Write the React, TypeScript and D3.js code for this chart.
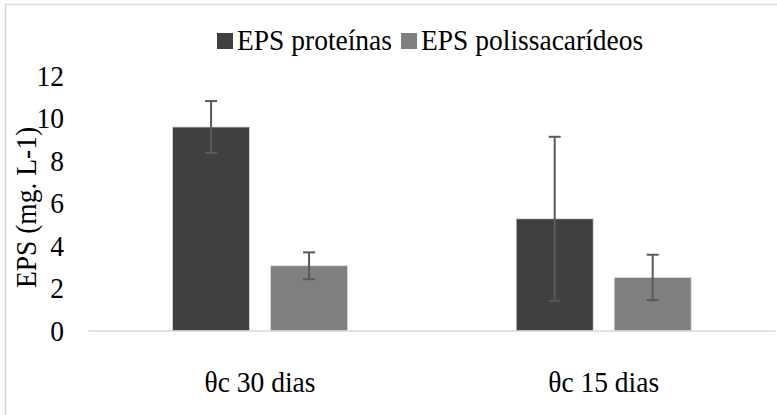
import React, { useEffect, useRef } from "react";
import * as d3 from "d3";

const categories = ["θc 30 dias", "θc 15 dias"];
const seriesNames = ["EPS proteínas", "EPS polissacarídeos"];
const proteinas = [9.6, 5.28];
const proteinasErr = [1.22, 3.86];
const polissacarideos = [3.07, 2.52];
const polissacarideosErr = [0.63, 1.07];
const yTicks = [0, 2, 4, 6, 8, 10, 12];
const yTitle = "EPS (mg. L-1)";
const colors = ["#404040", "#7f7f7f"];

export default function App() {
  const ref = useRef<SVGSVGElement | null>(null);

  useEffect(() => {
    const svg = d3.select(ref.current);
    svg.selectAll("*").remove();
    const W = 777, H = 415;
    const font = "Liberation Serif, Times New Roman, serif";
    const fs = 27.5;
    const sy = 1.06;

    svg.append("rect").attr("x", 0).attr("y", 0).attr("width", W).attr("height", H).attr("fill", "#fff");
    svg.append("rect").attr("x", 5.5).attr("y", 4.5).attr("width", 800).attr("height", 500)
      .attr("fill", "none").attr("stroke", "#d9d9d9").attr("stroke-width", 1.5);

    const plotL = 88.25, plotR = 775.5, plotT = 76, plotB = 331;
    const x0 = d3.scaleBand<string>().domain(categories).range([plotL, plotR]).padding(0);
    const groupW = 175;
    const x1 = d3.scaleBand<string>().domain(seriesNames).range([0, groupW]).paddingInner(0.2143).paddingOuter(0);
    const y = d3.scaleLinear().domain([0, 12]).range([plotB, plotT]);

    const data = categories.map((c, i) => ({
      cat: c,
      vals: [
        { s: seriesNames[0], v: proteinas[i], e: proteinasErr[i], c: colors[0] },
        { s: seriesNames[1], v: polissacarideos[i], e: polissacarideosErr[i], c: colors[1] },
      ],
    }));

    const g = svg.append("g");
    data.forEach((d) => {
      const gx = (x0(d.cat) as number) + x0.bandwidth() / 2 - groupW / 2;
      d.vals.forEach((b) => {
        const bx = gx + (x1(b.s) as number);
        g.append("rect")
          .attr("x", bx).attr("y", y(b.v))
          .attr("width", x1.bandwidth()).attr("height", y(0) - y(b.v))
          .attr("fill", b.c).attr("stroke", "#e0e0e0").attr("stroke-width", 0.75);
      });
    });

    svg.append("line").attr("x1", plotL).attr("x2", plotR).attr("y1", y(0)).attr("y2", y(0))
      .attr("stroke", "#d9d9d9").attr("stroke-width", 1.5);

    data.forEach((d) => {
      const gx = (x0(d.cat) as number) + x0.bandwidth() / 2 - groupW / 2;
      d.vals.forEach((b) => {
        const cx = gx + (x1(b.s) as number) + x1.bandwidth() / 2;
        const eg = svg.append("g").attr("stroke", "#595959").attr("stroke-width", 2);
        eg.append("line").attr("x1", cx).attr("x2", cx).attr("y1", y(b.v + b.e)).attr("y2", y(b.v - b.e));
        [b.v + b.e, b.v - b.e].forEach((v) => {
          eg.append("line").attr("x1", cx - 6).attr("x2", cx + 6).attr("y1", y(v)).attr("y2", y(v));
        });
      });
    });

    const txt = (parent: any, x: number, yy: number, s: string, anchor: string, rot = false) => {
      const tr = rot
        ? `translate(${x},${yy}) rotate(-90) scale(1,${sy})`
        : `translate(${x},${yy}) scale(1,${sy})`;
      return parent.append("text").attr("transform", tr).attr("text-anchor", anchor)
        .attr("font-family", font).attr("font-size", fs).attr("fill", "#000").text(s);
    };

    const yg = svg.append("g");
    yTicks.forEach((t) => {
      txt(yg, 64, y(t) + 0.34 * fs * sy, String(t), "end");
    });

    const xg = svg.append("g");
    categories.forEach((c) => {
      txt(xg, (x0(c) as number) + x0.bandwidth() / 2, 391.5, c, "middle");
    });

    txt(svg, 36, (plotT + plotB) / 2 + 4, yTitle, "middle", true);

    const lg = svg.append("g");
    let cx = 217;
    const sq = 16;
    seriesNames.forEach((s, i) => {
      lg.append("rect").attr("x", cx).attr("y", 33).attr("width", sq).attr("height", sq).attr("fill", colors[i]);
      const t = txt(lg, cx + sq + 4, 49.5, s, "start");
      const w = (t.node() as SVGTextElement).getComputedTextLength();
      cx = cx + sq + 4 + w + 9;
    });
  }, []);

  return (
    <svg ref={ref} width={777} height={415} style={{ position: "absolute", left: 0, top: 0, display: "block" }} />
  );
}
